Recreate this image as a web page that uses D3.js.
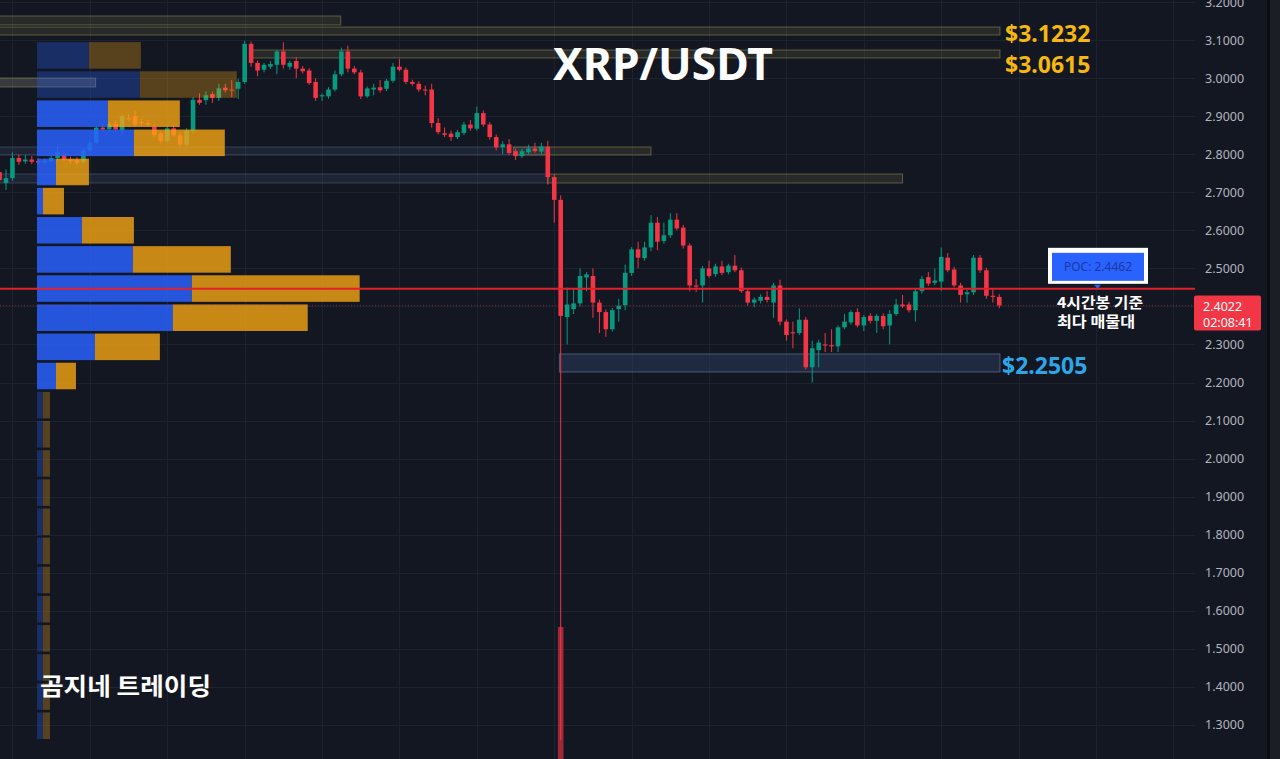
<!DOCTYPE html>
<html>
<head>
<meta charset="utf-8">
<script src="https://cdn.jsdelivr.net/npm/d3@7"></script>
<style>
  html, body { margin: 0; padding: 0; background: #131722; overflow: hidden; }
  svg { display: block; }
</style>
</head>
<body>
<svg id="chart" width="1280" height="759"></svg>
<script>
// ---- XRP/USDT 4h candles (oldest -> newest) ----
const open = [
  2.753,2.724,2.737,2.790,2.781,2.786,2.782,2.778,2.782,2.790,
  2.800,2.786,2.785,2.780,2.810,2.830,2.870,2.866,2.880,2.862,
  2.895,2.900,2.885,2.882,2.872,2.855,2.835,2.868,2.850,2.825,
  2.862,2.943,2.942,2.958,2.948,2.975,2.970,2.972,2.990,3.090,
  3.040,3.022,3.030,3.035,3.070,3.030,3.045,3.025,3.020,2.990,
  2.952,2.952,2.970,3.010,3.070,3.025,3.015,2.952,2.970,2.976,
  2.972,2.993,3.030,3.022,2.990,2.985,2.970,2.970,2.882,2.855,
  2.854,2.845,2.856,2.878,2.867,2.908,2.878,2.845,2.818,2.826,
  2.808,2.795,2.805,2.815,2.807,2.820,2.740,2.680,2.372,2.393,
  2.408,2.476,2.480,2.410,2.385,2.340,2.393,2.403,2.488,2.550,
  2.527,2.555,2.620,2.572,2.587,2.628,2.607,2.560,2.455,2.455,
  2.500,2.485,2.505,2.490,2.507,2.495,2.440,2.410,2.415,2.425,
  2.410,2.455,2.360,2.332,2.330,2.365,2.240,2.285,2.300,2.298,
  2.295,2.345,2.358,2.385,2.350,2.375,2.362,2.375,2.350,2.380,
  2.405,2.405,2.390,2.440,2.477,2.462,2.465,2.528,2.497,2.455,
  2.432,2.437,2.528,2.495,2.428,2.425
];
const high = [
  2.762,2.760,2.805,2.800,2.798,2.795,2.790,2.789,2.796,2.820,
  2.808,2.794,2.792,2.816,2.836,2.876,2.880,2.886,2.890,2.905,
  2.905,2.915,2.893,2.890,2.880,2.860,2.875,2.876,2.858,2.868,
  2.950,2.960,2.965,2.965,2.985,2.985,2.995,2.998,3.098,3.096,
  3.046,3.040,3.045,3.074,3.094,3.046,3.055,3.032,3.026,3.000,
  2.960,2.976,3.020,3.080,3.085,3.032,3.022,2.978,2.985,2.995,
  2.998,3.040,3.050,3.028,2.996,2.992,2.980,2.985,2.895,2.870,
  2.862,2.864,2.885,2.890,2.925,2.915,2.884,2.852,2.834,2.840,
  2.815,2.814,2.825,2.830,2.830,2.835,2.748,2.692,2.450,2.445,
  2.500,2.490,2.500,2.418,2.392,2.396,2.420,2.510,2.556,2.570,
  2.570,2.640,2.635,2.620,2.645,2.645,2.614,2.566,2.472,2.506,
  2.520,2.512,2.520,2.512,2.535,2.502,2.446,2.424,2.432,2.440,
  2.462,2.470,2.366,2.360,2.395,2.372,2.310,2.312,2.330,2.340,
  2.350,2.380,2.390,2.395,2.378,2.382,2.380,2.382,2.390,2.420,
  2.430,2.412,2.446,2.480,2.490,2.500,2.555,2.540,2.504,2.462,
  2.444,2.535,2.535,2.502,2.445,2.432
];
const low = [
  2.722,2.706,2.730,2.772,2.775,2.774,2.772,2.772,2.778,2.784,
  2.782,2.776,2.772,2.776,2.805,2.826,2.860,2.860,2.860,2.856,
  2.886,2.872,2.876,2.872,2.845,2.828,2.830,2.846,2.818,2.820,
  2.855,2.930,2.930,2.935,2.940,2.962,2.950,2.945,2.985,3.030,
  3.005,3.015,3.024,3.010,3.025,3.022,3.000,3.012,2.982,2.940,
  2.940,2.946,2.965,3.005,3.015,3.010,2.945,2.948,2.955,2.962,
  2.966,2.988,3.018,2.984,2.980,2.964,2.955,2.870,2.852,2.845,
  2.835,2.840,2.850,2.862,2.862,2.872,2.838,2.810,2.800,2.798,
  2.785,2.790,2.800,2.804,2.800,2.720,2.620,1.260,2.300,2.380,
  2.400,2.440,2.370,2.330,2.320,2.334,2.360,2.390,2.480,2.500,
  2.520,2.545,2.548,2.565,2.580,2.600,2.552,2.440,2.438,2.410,
  2.475,2.478,2.482,2.484,2.490,2.436,2.402,2.398,2.408,2.410,
  2.370,2.350,2.310,2.290,2.325,2.234,2.200,2.240,2.280,2.280,
  2.280,2.340,2.352,2.345,2.335,2.355,2.330,2.340,2.300,2.375,
  2.396,2.384,2.360,2.434,2.454,2.456,2.440,2.490,2.450,2.410,
  2.410,2.430,2.488,2.420,2.410,2.395
];
const close = [
  2.732,2.737,2.790,2.780,2.786,2.780,2.778,2.783,2.790,2.806,
  2.786,2.782,2.778,2.810,2.830,2.870,2.865,2.880,2.865,2.900,
  2.892,2.878,2.882,2.878,2.850,2.835,2.868,2.850,2.825,2.862,
  2.943,2.935,2.955,2.948,2.973,2.968,2.969,2.990,3.090,3.040,
  3.020,3.035,3.037,3.070,3.035,3.040,3.025,3.018,2.987,2.948,
  2.955,2.970,3.010,3.070,3.025,3.015,2.952,2.973,2.975,2.968,
  2.993,3.030,3.022,2.990,2.985,2.970,2.968,2.882,2.858,2.851,
  2.845,2.858,2.878,2.868,2.908,2.878,2.845,2.818,2.826,2.803,
  2.795,2.808,2.815,2.808,2.820,2.740,2.680,2.375,2.405,2.408,
  2.480,2.484,2.410,2.385,2.340,2.390,2.402,2.488,2.550,2.528,
  2.555,2.620,2.570,2.587,2.628,2.605,2.560,2.455,2.452,2.500,
  2.480,2.505,2.488,2.507,2.495,2.440,2.410,2.418,2.425,2.417,
  2.455,2.360,2.325,2.330,2.365,2.240,2.290,2.305,2.297,2.295,
  2.345,2.360,2.385,2.350,2.372,2.362,2.375,2.348,2.380,2.405,
  2.400,2.390,2.440,2.472,2.460,2.468,2.530,2.495,2.455,2.430,
  2.437,2.528,2.495,2.428,2.425,2.4022
];

// volume of the liquidation candle (the only bar tall enough to show)
const volumeIndex = [87];
const volumeValue = [1540];

// ---- price axis ----
const priceTicks = [3.2,3.1,3.0,2.9,2.8,2.7,2.6,2.5,2.4,2.3,2.2,2.1,2.0,1.9,1.8,1.7,1.6,1.5,1.4,1.3];
const priceDomain = [1.2105, 3.2053];

// ---- volume profile (24 rows, buy / sell volume, M XRP) ----
const profileTop = 3.098;
const profileStep = 0.0766;
const profileUp   = [104,206,142,194,38,12,90,192,310,272,116,38, 12,12,12,12,12,12,12,12,12,12,12,12];
const profileDown = [104,194,144,182,66,42,104,196,336,270,130,40, 14,14,14,14,14,14,14,14,14,14,14,14];
const valueArea = [2, 11];   // first / last row of the value area

// ---- drawn zones: price range and candle span ----
const zoneHigh = [3.1633, 3.1343, 3.0739, 3.0003, 2.8190, 2.8190, 2.7480, 2.7480, 2.2750];
const zoneLow  = [3.1396, 3.1133, 3.0529, 2.9766, 2.7979, 2.7979, 2.7243, 2.7243, 2.2277];
const zoneFrom = [-1, -1, 39.2, -1, -1, 79.7, -1, 85, 86.8];
const zoneTo   = [52.9, 155.1, 155.1, 14.9, 84.5, 101, 85, 140, 155.1];
const zoneKind = ["olive","olive","olive","grey","slate","olive","slate","olive","blue"];

// ---- level labels ----
const levelText  = ["$3.1232", "$3.0615", "$2.2505"];
const levelValue = [3.1232, 3.0615, 2.2505];
const levelShift = [2, 9, 2];
const levelColor = ["#f5b710", "#f5b710", "#2ea6e6"];

const pocPrice = 2.4462;
const lastPrice = 2.4022;
const countdown = "02:08:41";

// ---- layout ----
const W = 1280, H = 759;
const plotRight = 1195;
const svg = d3.select("#chart");

const y = d3.scaleLinear().domain(priceDomain).range([H, 0]);
const x = d3.scaleLinear().domain([0, 155]).range([-0.45, 999.3]);
const bodyW = 4.6;

svg.append("rect").attr("width", W).attr("height", H).attr("fill", "#131722");

const clip = svg.append("clipPath").attr("id", "plot");
clip.append("rect").attr("x", 0).attr("y", 0).attr("width", plotRight).attr("height", H);
const plot = svg.append("g").attr("clip-path", "url(#plot)");

// grid
plot.append("g").selectAll("line").data(priceTicks).join("line")
  .attr("x1", 0).attr("x2", plotRight)
  .attr("y1", d => Math.round(y(d)) + 0.5).attr("y2", d => Math.round(y(d)) + 0.5)
  .attr("stroke", "#1e222d").attr("stroke-width", 1);
const dayLines = d3.range(2, 190, 12);
plot.append("g").selectAll("line").data(dayLines).join("line")
  .attr("x1", d => Math.round(x(d)) + 0.5).attr("x2", d => Math.round(x(d)) + 0.5)
  .attr("y1", 0).attr("y2", H)
  .attr("stroke", "#1e222d").attr("stroke-width", 1);

// zones
const zoneStyle = {
  olive: { fill: "rgba(120,116,70,0.22)", stroke: "rgba(175,165,95,0.45)" },
  slate: { fill: "rgba(70,86,118,0.22)",  stroke: "rgba(105,120,155,0.40)" },
  grey:  { fill: "rgba(150,150,140,0.28)", stroke: "rgba(175,165,95,0.45)" },
  blue:  { fill: "rgba(52,72,112,0.38)",  stroke: "rgba(110,128,165,0.60)" }
};
plot.append("g").selectAll("rect").data(zoneHigh.map((h, i) => i)).join("rect")
  .attr("x", i => x(zoneFrom[i]))
  .attr("width", i => x(zoneTo[i]) - x(zoneFrom[i]))
  .attr("y", i => y(zoneHigh[i]))
  .attr("height", i => y(zoneLow[i]) - y(zoneHigh[i]))
  .attr("fill", i => zoneStyle[zoneKind[i]].fill)
  .attr("stroke", i => zoneStyle[zoneKind[i]].stroke)
  .attr("stroke-width", 1);

// volume bar of the liquidation candle
const yVol = d3.scaleLinear().domain([0, d3.max(volumeValue)]).range([H + 80, H - 132]);
plot.append("g").selectAll("rect").data(volumeIndex).join("rect")
  .attr("x", (d) => x(d) - 2.8).attr("width", 5.6)
  .attr("y", (d, i) => yVol(volumeValue[i]))
  .attr("height", (d, i) => yVol(0) - yVol(volumeValue[i]))
  .attr("fill", "#f23645").attr("opacity", 0.62);

// candles
const UP = "#089981", DOWN = "#f23645";
const idx = d3.range(open.length);
const candles = plot.append("g").selectAll("g").data(idx).join("g");
candles.append("line")
  .attr("x1", i => x(i)).attr("x2", i => x(i))
  .attr("y1", i => y(high[i])).attr("y2", i => y(low[i]))
  .attr("stroke", i => close[i] >= open[i] ? UP : DOWN).attr("stroke-width", 1);
candles.append("rect")
  .attr("x", i => x(i) - bodyW / 2).attr("width", bodyW)
  .attr("y", i => y(Math.max(open[i], close[i])))
  .attr("height", i => Math.max(1, Math.abs(y(open[i]) - y(close[i]))))
  .attr("fill", i => close[i] >= open[i] ? UP : DOWN);

// volume profile
const profileLeft = 37;
const totalMax = d3.max(profileUp.map((u, i) => u + profileDown[i]));
const xv = d3.scaleLinear().domain([0, totalMax]).range([0, plotRight * 0.27]);
const rows = d3.range(profileUp.length);
const inVA = k => k >= valueArea[0] && k <= valueArea[1];
const prof = plot.append("g");
prof.selectAll("rect.up").data(rows).join("rect").attr("class", "up")
  .attr("x", profileLeft)
  .attr("y", k => y(profileTop - k * profileStep) + 1.3)
  .attr("height", k => y(profileTop - (k + 1) * profileStep) - y(profileTop - k * profileStep) - 2.6)
  .attr("width", k => xv(profileUp[k]))
  .attr("fill", "#2962ff").attr("opacity", k => inVA(k) ? 0.84 : 0.3);
prof.selectAll("rect.down").data(rows).join("rect").attr("class", "down")
  .attr("x", k => profileLeft + xv(profileUp[k]))
  .attr("y", k => y(profileTop - k * profileStep) + 1.3)
  .attr("height", k => y(profileTop - (k + 1) * profileStep) - y(profileTop - k * profileStep) - 2.6)
  .attr("width", k => xv(profileDown[k]))
  .attr("fill", "#f5a514").attr("opacity", k => inVA(k) ? 0.8 : 0.3);

// last price line (dotted) and POC line
plot.append("line")
  .attr("x1", 0).attr("x2", plotRight)
  .attr("y1", y(lastPrice)).attr("y2", y(lastPrice))
  .attr("stroke", "#f23645").attr("stroke-opacity", 0.4)
  .attr("stroke-dasharray", "1,2").attr("stroke-width", 1);
plot.append("line")
  .attr("x1", 0).attr("x2", plotRight)
  .attr("y1", y(pocPrice)).attr("y2", y(pocPrice))
  .attr("stroke", "#e3202c").attr("stroke-width", 2);

// price axis
const axis = d3.axisRight(y).tickValues(priceTicks).tickFormat(d3.format(".4f")).tickSize(0).tickPadding(0);
const axG = svg.append("g").attr("transform", `translate(1205,0)`).call(axis);
axG.select(".domain").remove();
axG.selectAll("text")
  .attr("fill", "#b2b5be")
  .style("font-family", "'Noto Sans', 'DejaVu Sans', sans-serif")
  .style("font-size", "12.5px");

// right edge
svg.append("rect").attr("x", 1267).attr("y", 0).attr("width", 3).attr("height", H).attr("fill", "#0c0e13");
svg.append("rect").attr("x", 1270).attr("y", 0).attr("width", 10).attr("height", H).attr("fill", "#1b1e24");

// last price tag
const tagY = y(lastPrice);
svg.append("rect").attr("x", 1194).attr("y", tagY - 10).attr("width", 67).attr("height", 35)
  .attr("rx", 2).attr("fill", "#f23645");
svg.append("text").attr("x", 1203).attr("y", tagY + 5)
  .attr("fill", "#ffffff").style("font-family", "'Noto Sans', sans-serif").style("font-size", "12.5px")
  .text(d3.format(".4f")(lastPrice));
svg.append("text").attr("x", 1203).attr("y", tagY + 21)
  .attr("fill", "#ffffff").style("font-family", "'Noto Sans', sans-serif").style("font-size", "12.5px")
  .text(countdown);

// level labels
svg.append("g").selectAll("text").data(levelText).join("text")
  .attr("x", (d, i) => i === 2 ? 1002 : 1005)
  .attr("y", (d, i) => y(levelValue[i]) + levelShift[i])
  .attr("dominant-baseline", "central")
  .attr("fill", (d, i) => levelColor[i])
  .style("font-family", "'Noto Sans', 'Open Sans', sans-serif")
  .style("font-weight", "700").style("font-size", "23px")
  .text(d => d);

// title
svg.append("text").attr("x", 663).attr("y", 80).attr("text-anchor", "middle")
  .attr("fill", "#ffffff").attr("textLength", 220).attr("lengthAdjust", "spacingAndGlyphs")
  .style("font-family", "'Noto Sans', 'Open Sans', sans-serif")
  .style("font-weight", "700").style("font-size", "44px")
  .text("XRP/USDT");

// POC callout
const pocY = y(pocPrice);
svg.append("rect").attr("x", 1048).attr("y", pocY - 41).attr("width", 100).attr("height", 36).attr("fill", "#ffffff");
svg.append("rect").attr("x", 1052).attr("y", pocY - 36).attr("width", 92).attr("height", 28).attr("fill", "#2962ff");
svg.append("text").attr("x", 1098).attr("y", pocY - 22).attr("text-anchor", "middle")
  .attr("dominant-baseline", "central").attr("fill", "#1b3a9c")
  .style("font-family", "'Noto Sans', sans-serif").style("font-size", "12px")
  .text("POC: " + d3.format(".4f")(pocPrice));
svg.append("path")
  .attr("d", `M1094,${pocY - 4} L1101,${pocY - 4} L1097.5,${pocY} Z`)
  .attr("fill", "#2962ff");
svg.append("text").attr("x", 1057).attr("y", pocY + 19)
  .attr("fill", "#ffffff").attr("textLength", 86).attr("lengthAdjust", "spacingAndGlyphs")
  .style("font-family", "'Noto Sans CJK KR', 'Noto Sans', sans-serif")
  .style("font-weight", "600").style("font-size", "15px")
  .text("4시간봉 기준");
svg.append("text").attr("x", 1057).attr("y", pocY + 38)
  .attr("fill", "#ffffff").attr("textLength", 78).attr("lengthAdjust", "spacingAndGlyphs")
  .style("font-family", "'Noto Sans CJK KR', 'Noto Sans', sans-serif")
  .style("font-weight", "600").style("font-size", "15px")
  .text("최다 매물대");

// signature
svg.append("text").attr("x", 40).attr("y", 695)
  .attr("fill", "#ffffff").attr("textLength", 171).attr("lengthAdjust", "spacingAndGlyphs")
  .style("font-family", "'Noto Sans CJK KR', sans-serif")
  .style("font-weight", "700").style("font-size", "24px")
  .text("곰지네 트레이딩");
</script>
</body>
</html>
